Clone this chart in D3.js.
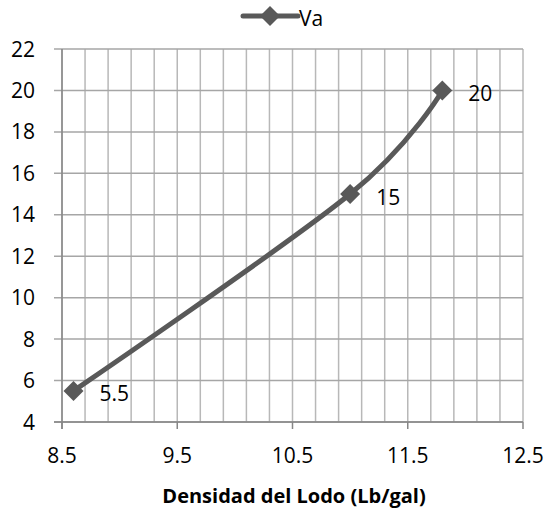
<!DOCTYPE html>
<html>
<head>
<meta charset="utf-8">
<script src="https://cdn.jsdelivr.net/npm/d3@7"></script>
<style>
  body { margin: 0; background: #fff; }
  text { font-family: "Open Sans", "Noto Sans", sans-serif; fill: #000; }
</style>
</head>
<body>
<svg id="plot"></svg>
<script>
const seriesName = "Va";
const density = [8.6, 11, 11.8];
const va = [5.5, 15, 20];
const xTicks = [8.5, 9.5, 10.5, 11.5, 12.5];
const yTicks = [4, 6, 8, 10, 12, 14, 16, 18, 20, 22];
const xTitle = "Densidad del Lodo (Lb/gal)";

let dimensions = { width: 551, height: 512, left: 62, right: 523, top: 49, bottom: 422 };
const lineColor = "#595959";
const fontSize = 21;

const svg = d3.select("#plot")
  .attr("width", dimensions.width)
  .attr("height", dimensions.height);

const xScale = d3.scaleLinear().domain([8.5, 12.5]).range([dimensions.left, dimensions.right]);
const yScale = d3.scaleLinear().domain([4, 22]).range([dimensions.bottom, dimensions.top]);

// minor vertical gridlines every 0.2
const minor = d3.range(0, 21).map(i => 8.5 + i * 0.2);
svg.append("g").selectAll("line")
  .data(minor)
  .join("line")
  .attr("x1", d => xScale(d)).attr("x2", d => xScale(d))
  .attr("y1", dimensions.top).attr("y2", dimensions.bottom)
  .attr("stroke", "#b8b8b8").attr("stroke-width", 1.5);

// horizontal gridlines
svg.append("g").selectAll("line")
  .data(yTicks)
  .join("line")
  .attr("x1", dimensions.left - 8).attr("x2", dimensions.right)
  .attr("y1", d => yScale(d)).attr("y2", d => yScale(d))
  .attr("stroke", "#a6a6a6").attr("stroke-width", 1.5);

// axes lines
svg.append("line")
  .attr("x1", dimensions.left).attr("x2", dimensions.left)
  .attr("y1", dimensions.top).attr("y2", dimensions.bottom + 7)
  .attr("stroke", "#868686").attr("stroke-width", 1.5);
svg.append("line")
  .attr("x1", dimensions.left - 8).attr("x2", dimensions.right)
  .attr("y1", dimensions.bottom).attr("y2", dimensions.bottom)
  .attr("stroke", "#868686").attr("stroke-width", 1.5);

// major x ticks
svg.append("g").selectAll("line")
  .data(xTicks)
  .join("line")
  .attr("x1", d => xScale(d)).attr("x2", d => xScale(d))
  .attr("y1", dimensions.bottom).attr("y2", dimensions.bottom + 7)
  .attr("stroke", "#868686").attr("stroke-width", 1.5);

// tick labels
svg.append("g").selectAll("text")
  .data(xTicks)
  .join("text")
  .attr("x", d => xScale(d))
  .attr("y", 463)
  .attr("text-anchor", "middle")
  .attr("font-size", fontSize)
  .text(d => d3.format(".1f")(d));

svg.append("g").selectAll("text")
  .data(yTicks)
  .join("text")
  .attr("x", dimensions.left - 27)
  .attr("y", d => yScale(d))
  .attr("dy", "0.36em")
  .attr("text-anchor", "end")
  .attr("font-size", fontSize)
  .text(d => d);

svg.append("text")
  .attr("x", 294)
  .attr("y", 503)
  .attr("text-anchor", "middle")
  .attr("font-size", 20)
  .attr("font-weight", "bold")
  .text(xTitle);

// series
const data = density.map((d, i) => ({ x: d, y: va[i] }));
const line = d3.line()
  .x(d => xScale(d.x))
  .y(d => yScale(d.y))
  .curve(d3.curveCatmullRom.alpha(0));

svg.append("path")
  .datum(data)
  .attr("d", line)
  .attr("fill", "none")
  .attr("stroke", lineColor)
  .attr("stroke-width", 5)
  .attr("stroke-linecap", "round");

const diamond = d3.symbol().type(d3.symbolSquare).size(200);
svg.append("g").selectAll("path")
  .data(data)
  .join("path")
  .attr("d", diamond)
  .attr("transform", d => `translate(${xScale(d.x)},${yScale(d.y)}) rotate(45)`)
  .attr("fill", lineColor);

svg.append("g").selectAll("text")
  .data(data)
  .join("text")
  .attr("x", d => xScale(d.x) + 26)
  .attr("y", d => yScale(d.y) + 3)
  .attr("dy", "0.36em")
  .attr("font-size", fontSize)
  .text(d => d.y);

// legend
const legend = svg.append("g").attr("transform", "translate(243,16)");
legend.append("line")
  .attr("x1", 0).attr("x2", 55)
  .attr("stroke", lineColor).attr("stroke-width", 5)
  .attr("stroke-linecap", "round");
legend.append("path")
  .attr("d", diamond)
  .attr("transform", "translate(27,0) rotate(45)")
  .attr("fill", lineColor);
legend.append("text")
  .attr("x", 56).attr("y", 2).attr("dy", "0.36em")
  .attr("font-size", fontSize)
  .text(seriesName);
</script>
</body>
</html>
